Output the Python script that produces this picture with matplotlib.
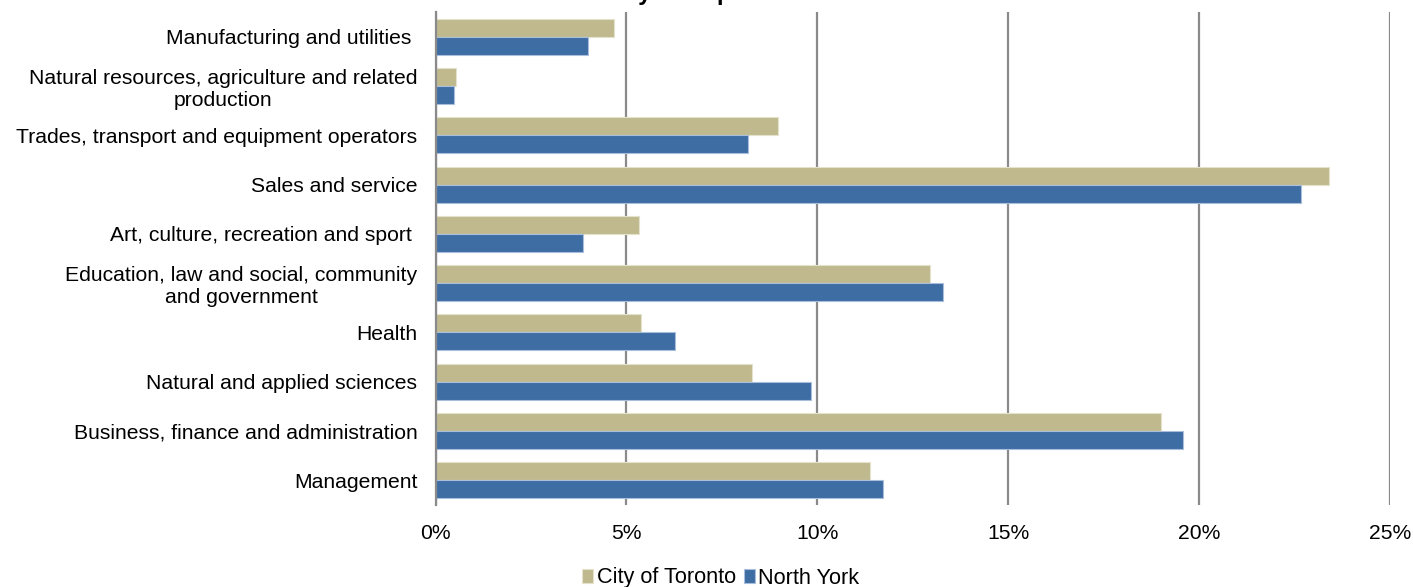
import numpy as np
import matplotlib.pyplot as plt

plt.rcParams['font.family'] = ['Liberation Sans', 'DejaVu Sans']

# categories listed bottom to top
categories = ['Management',
              'Business, finance and administration',
              'Natural and applied sciences',
              'Health',
              'Education, law and social, community\nand government',
              'Art, culture, recreation and sport ',
              'Sales and service',
              'Trades, transport and equipment operators',
              'Natural resources, agriculture and related\nproduction',
              'Manufacturing and utilities ']
toronto = [11.38, 19.0, 8.29, 5.38, 12.95, 5.33, 23.4, 8.97, 0.54, 4.68]
north_york = [11.72, 19.59, 9.83, 6.27, 13.29, 3.86, 22.67, 8.18, 0.48, 3.99]
xticks = [0, 5, 10, 15, 20, 25]
xtick_labels = ['0%', '5%', '10%', '15%', '20%', '25%']

W, H = 1413, 587
fig = plt.figure(figsize=(W / 100, H / 100), dpi=100)
ax = fig.add_axes([435.5 / W, (H - 505) / H, (1390 - 435.5) / W, (505 - 12) / H])

y = np.arange(len(categories))
h = 0.365
ax.barh(y + h / 2, toronto, height=h, color='#BFB98D', edgecolor='#E4E1CC',
        linewidth=0.8, label='City of Toronto', zorder=3)
ax.barh(y - h / 2, north_york, height=h, color='#3E6DA4', edgecolor='#A9BEDB',
        linewidth=0.8, label='North York', zorder=3)

ax.set_xlim(0, 25)
ax.set_ylim(-0.5, len(categories) - 0.5)
ax.set_xticks(xticks)
ax.set_xticklabels(xtick_labels, fontsize=15.2)
ax.set_yticks(y)
ax.set_yticklabels(categories, fontsize=15.2, linespacing=1.2)
for lbl in ax.get_yticklabels():
    lbl.set_multialignment('center')
ax.tick_params(axis='x', length=0, pad=14)
ax.tick_params(axis='y', length=0, pad=13)

ax.xaxis.grid(True, color='#8A8A8A', linewidth=1.6, zorder=2)
ax.set_axisbelow(False)
for s in ['top', 'right', 'bottom']:
    ax.spines[s].set_visible(False)
ax.spines['left'].set_color('#8A8A8A')
ax.spines['left'].set_linewidth(1.6)
ax.spines['left'].set_zorder(4)

# title sits mostly above the visible area
fig.text(466 / W, 1.0, 'Labour Force by Occupation', fontsize=17,
         fontweight='bold', ha='left', va='baseline')

fig.legend(loc='center', bbox_to_anchor=(721 / W, (H - 578) / H), ncol=2,
           frameon=False, fontsize=15.6, handlelength=0.5, handleheight=0.65,
           handletextpad=0.15, columnspacing=0.4)

fig.savefig('out.png', dpi=100)
